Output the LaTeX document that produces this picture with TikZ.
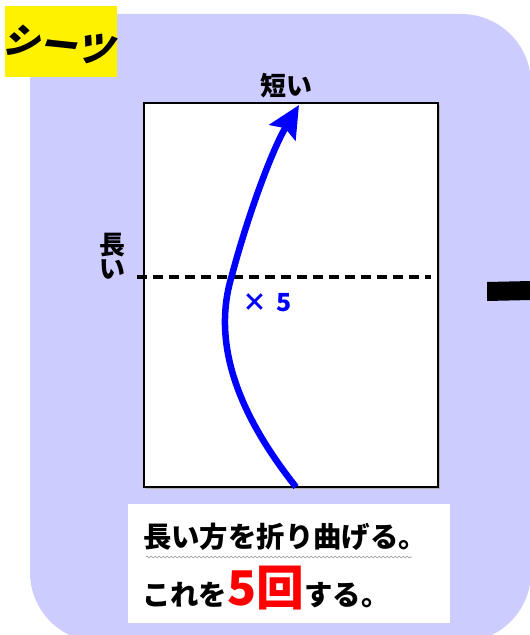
\documentclass[tikz,border=0pt]{standalone}
\usepackage{fontspec}
\newfontfamily\jp{Noto Sans CJK JP}[BoldFont={Noto Sans CJK JP Black}]
\usetikzlibrary{arrows.meta,decorations.pathmorphing}
\definecolor{lav}{RGB}{204,204,255}
\definecolor{arrowblue}{RGB}{0,0,255}
\definecolor{wavegray}{RGB}{150,150,150}
\tikzset{
  jptext/.style={font=\jp\bfseries\fontsize{#1}{#1}\selectfont, inner sep=0pt},
  paper/.style={draw=black, line width=1.6bp, fill=white},
}
\begin{document}
\begin{tikzpicture}[x=1bp,y=-1bp]
\useasboundingbox (0,0) rectangle (530,635);
% panel background
\begin{scope}
\clip (0,0) rectangle (530,635);
\fill[lav, rounded corners=70] (30,14) rectangle (531,642);
\end{scope}
% title
\fill[yellow] (5,6) rectangle (117,77);
\node[jptext=37, rotate=-6, xslant=0.25] (title) at (61,45) {シーツ};
% paper
\fill[gray!60] (146,105) rectangle (440,489);
\node[paper, minimum width=294bp, minimum height=384bp, anchor=north west] (sheet) at (143,102) {};
\node[jptext=26] (short) at (286,86) {短い};
\node[jptext=26] (long1) at (112,245) {長};
\node[jptext=26] (long2) at (112,269) {い};
\coordinate (dl) at (137,277);
\coordinate (dr) at (431,277);
\draw[line width=3.2bp, dash pattern=on 10bp off 6bp] (dl) -- (dr);
% arrow
\coordinate (as) at (296,487);
\coordinate (am) at (232,275);
\coordinate (at) at (299,105);
\draw[arrowblue, line width=6.5bp, -{Stealth[length=32bp,width=30bp,inset=5bp]}]
  (as) .. controls (235,410) and (212,340) .. (am) .. controls (248,215) and (272,150) .. (at);
\node[jptext=25, text=arrowblue] (times) at (267,303) {×\,\,5};
% right bar
\fill[black] (487,282) -- (531,281) -- (531,300) -- (487,301) -- cycle;
% instruction box
\node[fill=white, minimum width=322bp, minimum height=119bp, anchor=north west] (box) at (128,504) {};
\node[jptext=28.5, anchor=west] (line1) at (143,537) {長い方を折り曲げる。};
\draw[wavegray, line width=0.6bp, decorate, decoration={snake, amplitude=1bp, segment length=4bp}]
  (146,557) -- (412,557);
\node[anchor=west, inner sep=0pt] (line2) at (142,588)
  {\jp\bfseries\fontsize{28.5}{28.5}\selectfont これを{\color{red}\fontsize{48}{48}\selectfont 5回}する。};
\end{tikzpicture}
\end{document}
